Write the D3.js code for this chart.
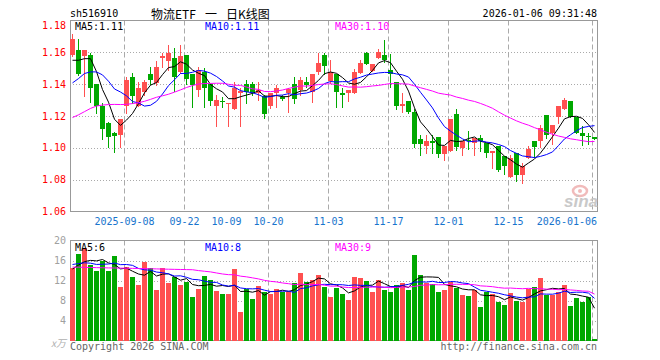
<!DOCTYPE html>
<html><head><meta charset="utf-8">
<script src="https://cdn.jsdelivr.net/npm/d3@7"></script>
<style>body{margin:0;background:#fff}svg{display:block}</style>
</head><body>
<svg id="c" width="660" height="360"></svg>
<script>
// ---------- data ----------
const dates = [
 "2025-08-26","2025-08-27","2025-08-28","2025-08-29",
 "2025-09-01","2025-09-02","2025-09-03","2025-09-04","2025-09-05",
 "2025-09-08","2025-09-09","2025-09-10","2025-09-11","2025-09-12",
 "2025-09-15","2025-09-16","2025-09-17","2025-09-18","2025-09-19",
 "2025-09-22","2025-09-23","2025-09-24","2025-09-25","2025-09-26",
 "2025-09-29","2025-09-30",
 "2025-10-09","2025-10-10",
 "2025-10-13","2025-10-14","2025-10-15","2025-10-16","2025-10-17",
 "2025-10-20","2025-10-21","2025-10-22","2025-10-23","2025-10-24",
 "2025-10-27","2025-10-28","2025-10-29","2025-10-30","2025-10-31",
 "2025-11-03","2025-11-04","2025-11-05","2025-11-06","2025-11-07",
 "2025-11-10","2025-11-11","2025-11-12","2025-11-13","2025-11-14",
 "2025-11-17","2025-11-18","2025-11-19","2025-11-20","2025-11-21",
 "2025-11-24","2025-11-25","2025-11-26","2025-11-27","2025-11-28",
 "2025-12-01","2025-12-02","2025-12-03","2025-12-04","2025-12-05",
 "2025-12-08","2025-12-09","2025-12-10","2025-12-11","2025-12-12",
 "2025-12-15","2025-12-16","2025-12-17","2025-12-18","2025-12-19",
 "2025-12-22","2025-12-23","2025-12-24","2025-12-25","2025-12-26",
 "2025-12-29","2025-12-30","2025-12-31",
 "2026-01-05","2026-01-06"];
const open = [
 1.1583,1.1613,1.1579,1.1581,1.1400,1.1263,1.1158,1.1092,1.1079,1.1263,
 1.1442,1.1263,1.1352,1.1463,1.1410,1.1565,1.1546,1.1565,1.1477,1.1583,
 1.1463,1.1363,1.1477,1.1404,1.1263,1.1297,1.1275,1.1242,1.1344,1.1404,
 1.1400,1.1346,1.1327,1.1263,1.1346,1.1317,1.1346,1.1400,1.1363,1.1415,
 1.1352,1.1477,1.1581,1.1420,1.1467,1.1342,1.1346,1.1346,1.1471,1.1596,
 1.1483,1.1567,1.1583,1.1492,1.1413,1.1263,1.1294,1.1227,1.1058,1.1013,
 1.1044,1.1067,1.0963,1.0981,1.1210,1.0998,1.1050,1.1029,1.1063,1.1029,
 1.0967,1.1013,1.0946,1.0817,1.0967,1.0827,1.0935,1.1044,1.1044,1.1206,
 1.1092,1.1196,1.1246,1.1296,1.1196,1.1092,1.1077,1.1067];
const high = [
 1.1713,1.1681,1.1613,1.1596,1.1400,1.1283,1.1165,1.1100,1.1183,1.1446,
 1.1473,1.1415,1.1425,1.1508,1.1545,1.1595,1.1644,1.1629,1.1644,1.1583,
 1.1463,1.1508,1.1500,1.1404,1.1329,1.1317,1.1281,1.1413,1.1375,1.1425,
 1.1415,1.1415,1.1335,1.1346,1.1394,1.1331,1.1375,1.1446,1.1442,1.1446,
 1.1463,1.1598,1.1598,1.1550,1.1467,1.1373,1.1363,1.1496,1.1550,1.1600,
 1.1529,1.1623,1.1675,1.1588,1.1413,1.1342,1.1294,1.1242,1.1081,1.1081,
 1.1081,1.1067,1.1013,1.1183,1.1244,1.1046,1.1106,1.1063,1.1081,1.1029,
 1.0979,1.1013,1.0946,1.0956,1.0967,1.0904,1.1013,1.1044,1.1144,1.1206,
 1.1144,1.1263,1.1310,1.1296,1.1196,1.1138,1.1092,1.1071];
const low = [
 1.1580,1.1460,1.1325,1.1290,1.1221,1.1054,1.1008,1.0971,1.1008,1.1220,
 1.1279,1.1263,1.1331,1.1404,1.1395,1.1510,1.1490,1.1358,1.1470,1.1400,
 1.1258,1.1325,1.1258,1.1267,1.1137,1.1254,1.1137,1.1242,1.1137,1.1279,
 1.1335,1.1300,1.1185,1.1250,1.1258,1.1300,1.1227,1.1279,1.1331,1.1383,
 1.1290,1.1467,1.1467,1.1410,1.1254,1.1254,1.1296,1.1342,1.1471,1.1529,
 1.1483,1.1567,1.1540,1.1383,1.1242,1.1227,1.1217,1.1004,1.0956,1.0967,
 1.0967,1.0942,1.0925,1.0981,1.0988,1.0956,1.0992,1.0956,1.0977,1.0942,
 1.0873,1.0852,1.0838,1.0817,1.0790,1.0779,1.0935,1.0942,1.1008,1.1060,
 1.1025,1.1158,1.1246,1.1192,1.1092,1.1019,1.1023,1.1054];
const close = [
 1.1681,1.1463,1.1613,1.1375,1.1263,1.1117,1.1067,1.1075,1.1183,1.1429,
 1.1325,1.1375,1.1415,1.1425,1.1510,1.1575,1.1596,1.1446,1.1575,1.1435,
 1.1394,1.1492,1.1373,1.1296,1.1300,1.1294,1.1281,1.1373,1.1358,1.1352,
 1.1346,1.1363,1.1210,1.1346,1.1379,1.1308,1.1367,1.1304,1.1425,1.1394,
 1.1463,1.1533,1.1515,1.1477,1.1352,1.1329,1.1363,1.1477,1.1533,1.1529,
 1.1529,1.1600,1.1550,1.1467,1.1263,1.1275,1.1227,1.1025,1.1025,1.1046,
 1.1029,1.0963,1.1013,1.1183,1.1008,1.1046,1.1042,1.1063,1.1046,1.0967,
 1.0979,1.0863,1.0883,1.0933,1.0831,1.0883,1.0994,1.1008,1.1123,1.1081,
 1.1144,1.1263,1.1300,1.1192,1.1092,1.1077,1.1065,1.1058];
// volume, unit: 万
const volume = [
 14.5,17.4,18.5,15.2,14.0,15.9,14.0,17.0,10.7,14.8,
 12.8,11.2,15.8,14.5,10.2,14.6,11.6,12.7,11.2,11.8,
 8.7,10.4,13.0,12.2,10.0,9.4,9.4,14.4,5.8,10.3,
 8.4,11.0,9.8,9.4,10.4,9.7,9.7,11.6,13.6,11.8,
 12.2,13.2,10.8,8.7,10.5,9.4,8.2,12.8,12.6,12.0,
 9.8,12.2,10.2,9.8,11.2,11.5,10.2,17.2,13.2,11.5,
 11.4,9.8,10.2,11.8,10.5,9.2,9.0,10.2,6.8,9.7,
 9.3,7.8,7.2,9.6,8.0,7.8,10.4,10.8,12.6,9.2,
 9.2,9.8,11.2,7.0,8.6,7.8,8.7,0.2];
// estimated sessions before the visible window (needed for the moving averages)
const prevClose = [
 1.0950,1.1010,1.0772,1.0810,1.0934,1.0974,1.1042,1.1210,1.1396,1.1172,
 1.1222,1.1142,1.1062,1.1117,1.1302,1.1293,1.1053,1.1152,1.0982,1.1031,
 1.1193,1.1293,1.1275,1.1263,1.1306,1.1463,1.1563,1.1375,1.1669];
const prevVolume = [
 18.0,19.5,16.0,15.0,16.5,15.0,17.5,11.5,15.5,13.5,
 12.0,16.5,15.5,11.0,15.5,12.5,13.5,12.0,12.5,9.5,
 15.5,17.0,16.0,16.5,15.5,13.5,15.0,14.0,14.5];
const priceTicks = [1.06,1.08,1.10,1.12,1.14,1.16,1.18];
const volTicks = [0,4,8,12,16,20];
const dateLabels = ["2025-09-08","09-22","10-09","10-20","11-03","11-17","12-01","12-15","2026-01-06"];
const dateLabelDays = ["2025-09-08","2025-09-22","2025-10-09","2025-10-20","2025-11-03","2025-11-17","2025-12-01","2025-12-15","2026-01-06"];
const gridDays = ["2025-09-08","2025-09-22","2025-10-20","2025-11-03","2025-11-17","2025-12-01","2025-12-15","2026-01-06"];
const maPeriods = [5,10,30];
const maColors = ["#000000","#0000ff","#ff00ff"];

// ---------- drawing ----------
const svg = d3.select("#c");
const L = 70, R = 597;
const pTop = 20.5, pBot = 211.5, vTop = 240.5, vBot = 340.5;
const mono = "'DejaVu Sans Mono', monospace";
const RED = "#ff5050", GREEN = "#00a800";

const x = d3.scaleBand().domain(dates).range([L, R]).paddingInner(1/6).paddingOuter(0).align(0);
const bw = x.bandwidth();
const y = d3.scaleLinear().domain([1.06, 1.18]).range([pBot, pTop]);
const yv = d3.scaleLinear().domain([0, 20]).range([vBot, vTop]);

const rows = dates.map((d, i) => ({d, o: open[i], h: high[i], l: low[i], c: close[i], v: volume[i], up: close[i] > open[i]}));

function movingAvg(prev, arr, n) {
  const all = prev.concat(arr);
  const off = prev.length;
  return arr.map((_, i) => d3.mean(all.slice(off + i - n + 1, off + i + 1)));
}
const priceMA = maPeriods.map(n => movingAvg(prevClose, close, n));
const volMA = maPeriods.map(n => movingAvg(prevVolume, volume, n));

// grids - price
const gp = svg.append("g");
priceTicks.filter(t => t > 1.061 && t < 1.179).forEach(t => {
  const yy = Math.round(y(t)) + 0.5;
  gp.append("line").attr("x1", L).attr("x2", R).attr("y1", yy).attr("y2", yy)
    .attr("stroke", "#aaa").attr("stroke-dasharray", "1,2");
});
volTicks.filter(t => t > 0 && t < 20).forEach(t => {
  const yy = Math.round(yv(t)) + 0.5;
  gp.append("line").attr("x1", L).attr("x2", R).attr("y1", yy).attr("y2", yy)
    .attr("stroke", "#aaa").attr("stroke-dasharray", "1,2");
});
gridDays.forEach(dd => {
  const xx = x(dd) + 0.5;
  [[pTop, pBot], [vTop, vBot]].forEach(([a, b]) => {
    gp.append("line").attr("x1", xx).attr("x2", xx).attr("y1", a).attr("y2", b)
      .attr("stroke", "#aaa").attr("stroke-dasharray", "5,3");
  });
});

// frames
[[pTop, pBot], [vTop, vBot]].forEach(([a, b]) => {
  svg.append("rect").attr("x", L + 0.5).attr("y", a).attr("width", R - L).attr("height", b - a)
    .attr("fill", "none").attr("stroke", "#999");
});

// watermark
const wm = svg.append("g").attr("opacity", 0.9);
wm.append("ellipse").attr("cx", 580).attr("cy", 191).attr("rx", 7).attr("ry", 5)
  .attr("fill", "none").attr("stroke", "#f0b4b4").attr("stroke-width", 2.5);
wm.append("circle").attr("cx", 580).attr("cy", 191).attr("r", 2).attr("fill", "#f0b4b4");
wm.append("text").attr("x", 581).attr("y", 207).attr("text-anchor", "middle")
  .attr("font-family", "'Liberation Sans', sans-serif").attr("font-weight", "bold").attr("font-style", "italic")
  .attr("font-size", 17).attr("fill", "#c4c4c4").text("sina");

// candles
const gc = svg.append("g");
rows.forEach(r => {
  const col = r.up ? RED : GREEN;
  const x0 = x(r.d);
  const yh = Math.round(y(r.h)), yl = Math.round(y(r.l));
  gc.append("line").attr("x1", x0 + 2.5).attr("x2", x0 + 2.5).attr("y1", yh).attr("y2", yl + 1)
    .attr("stroke", col);
  const yt = Math.round(y(Math.max(r.o, r.c))), yb = Math.round(y(Math.min(r.o, r.c)));
  gc.append("rect").attr("x", x0).attr("y", yt).attr("width", bw).attr("height", Math.max(1, yb - yt))
    .attr("fill", col);
});

// volume bars
rows.forEach(r => {
  const yt = Math.round(yv(r.v));
  svg.append("rect").attr("x", x(r.d)).attr("y", yt).attr("width", bw).attr("height", Math.max(1, Math.round(vBot) - yt))
    .attr("fill", r.up ? RED : GREEN);
});

// MA lines
const ln = (sc) => d3.line().x((v, i) => x(dates[i]) + bw / 2).y(v => sc(v));
priceMA.forEach((m, k) => svg.append("path").attr("d", ln(y)(m)).attr("fill", "none").attr("stroke", maColors[k]).attr("stroke-width", 1));
volMA.forEach((m, k) => svg.append("path").attr("d", ln(yv)(m)).attr("fill", "none").attr("stroke", maColors[k]).attr("stroke-width", 1));

// legends
const legX = [75, 205, 335];
maPeriods.forEach((n, k) => {
  const pv = priceMA[k][priceMA[k].length - 1];
  const vv = volMA[k][volMA[k].length - 1];
  svg.append("text").attr("x", legX[k]).attr("y", 26).attr("dominant-baseline", "central")
    .attr("font-family", mono).attr("font-size", 10).attr("fill", maColors[k]).text(`MA${n}:${pv.toFixed(2)}`);
  svg.append("text").attr("x", legX[k]).attr("y", 247).attr("dominant-baseline", "central")
    .attr("font-family", mono).attr("font-size", 10).attr("fill", maColors[k]).text(`MA${n}:${Math.round(vv)}`);
});

// axes labels
priceTicks.forEach(t => {
  let yy = y(t);
  if (t > 1.179) yy = 25;
  svg.append("text").attr("x", 66).attr("y", yy).attr("text-anchor", "end").attr("dominant-baseline", "central")
    .attr("font-family", mono).attr("font-size", 10).attr("fill", "#ff0000").text(t.toFixed(2));
});
volTicks.filter(t => t > 0).forEach(t => {
  svg.append("text").attr("x", 66).attr("y", yv(t)).attr("text-anchor", "end").attr("dominant-baseline", "central")
    .attr("font-family", mono).attr("font-size", 10).attr("fill", "#a0a0a0").text(t);
});
svg.append("text").attr("x", 66).attr("y", 342).attr("text-anchor", "end").attr("dominant-baseline", "central")
  .attr("font-family", "'Noto Sans CJK SC', sans-serif").attr("font-size", 10).attr("font-style", "italic").attr("fill", "#b0b0b0").text("x万");

dateLabels.forEach((lab, i) => {
  const cx = x(dateLabelDays[i]) + 0.5;
  const w = lab.length * 6.02;
  let sx = cx - w / 2;
  if (sx + w > R) sx = R - w;
  svg.append("text").attr("x", sx).attr("y", 221).attr("dominant-baseline", "central")
    .attr("font-family", mono).attr("font-size", 10).attr("fill", "#1874cd").text(lab);
});

// header
svg.append("text").attr("x", 70).attr("y", 13).attr("dominant-baseline", "central")
  .attr("font-family", mono).attr("font-size", 10).attr("fill", "#000").text("sh516910");
const tt = svg.append("text").attr("y", 13).attr("dominant-baseline", "central")
  .attr("font-family", "'Noto Sans CJK SC', sans-serif").attr("font-size", 12).attr("fill", "#000");
tt.append("tspan").attr("x", 151).text("物流ETF");
tt.append("tspan").attr("x", 205).text("一");
tt.append("tspan").attr("x", 226).text("日K线图");
svg.append("text").attr("x", R).attr("y", 13).attr("text-anchor", "end").attr("dominant-baseline", "central")
  .attr("font-family", mono).attr("font-size", 10).attr("fill", "#000").text("2026-01-06 09:31:48");

// footer
svg.append("text").attr("x", 70).attr("y", 346).attr("dominant-baseline", "central")
  .attr("font-family", mono).attr("font-size", 10).attr("fill", "#666").text("Copyright 2026 SINA.COM");
svg.append("text").attr("x", R).attr("y", 346).attr("text-anchor", "end").attr("dominant-baseline", "central")
  .attr("font-family", mono).attr("font-size", 10).attr("fill", "#666").text("http://finance.sina.com.cn");
</script>
</body></html>
